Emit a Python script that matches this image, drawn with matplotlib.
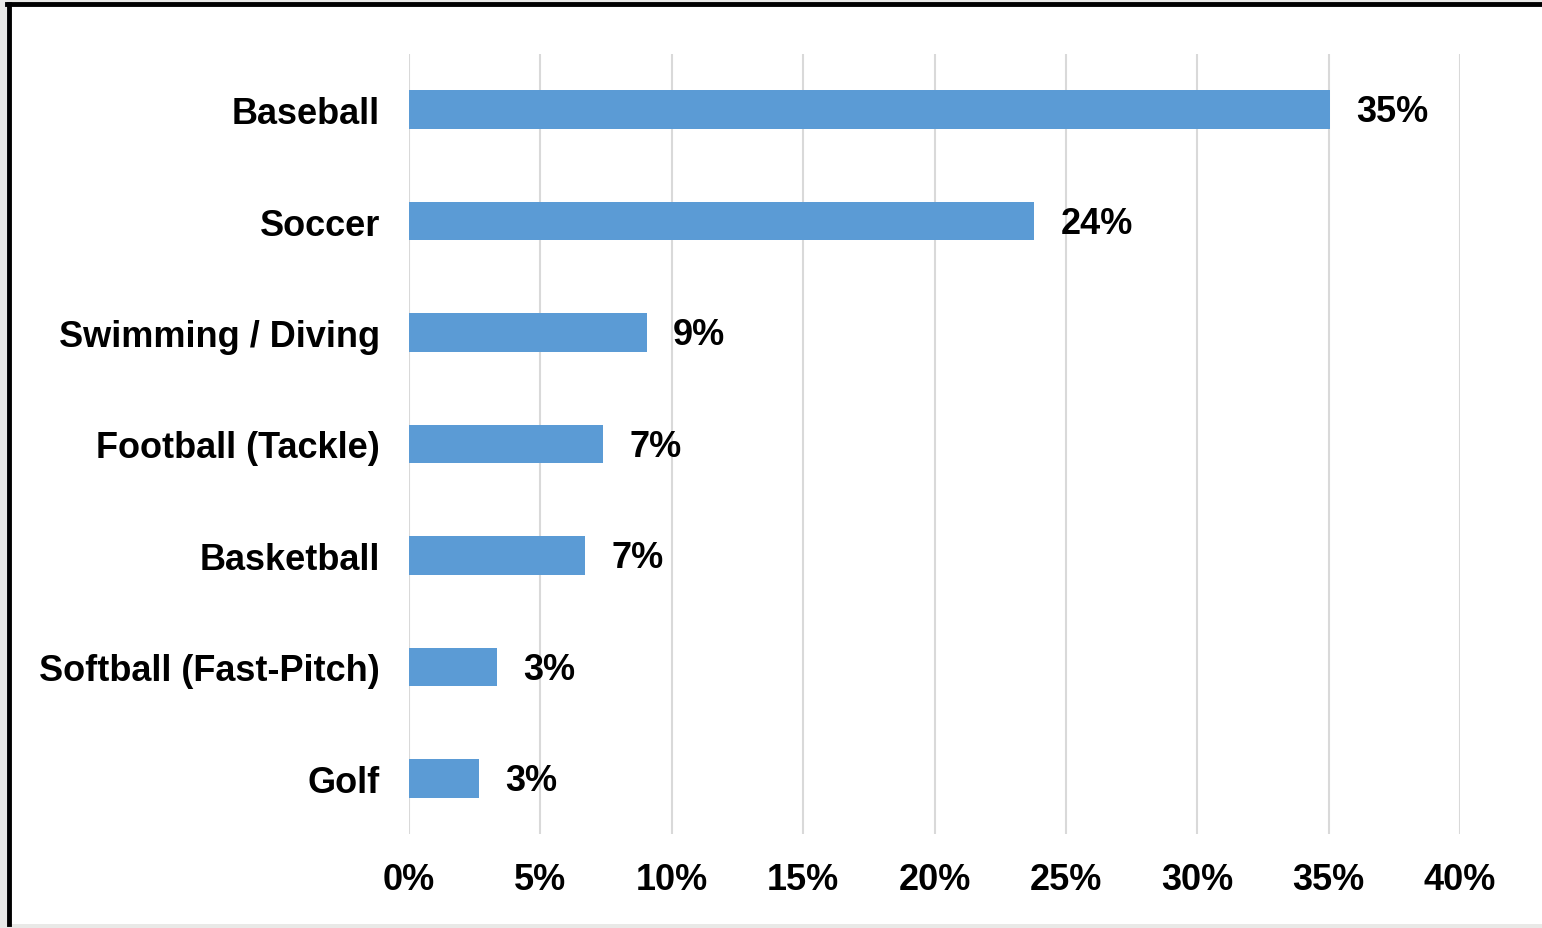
import matplotlib.pyplot as plt
from matplotlib.patches import Rectangle
from matplotlib.ticker import FuncFormatter

sports = ['Baseball', 'Soccer', 'Swimming / Diving', 'Football (Tackle)',
          'Basketball', 'Softball (Fast-Pitch)', 'Golf']
share = [35.05, 23.8, 9.05, 7.4, 6.7, 3.35, 2.65]
labels = ['35%', '24%', '9%', '7%', '7%', '3%', '3%']

plt.rcParams['font.family'] = ['Liberation Sans', 'DejaVu Sans']
plt.rcParams['font.weight'] = 'bold'

fig = plt.figure(figsize=(15.42, 9.29), dpi=100)
fig.patch.set_facecolor('#e9e9e7')
# white card with black border on top / left
fig.add_artist(Rectangle((9 / 1542, 0.004), 1.0, 1 - 5 / 929 - 0.004,
                         transform=fig.transFigure, facecolor='white',
                         edgecolor='none', zorder=-5))
fig.add_artist(plt.Line2D([9 / 1542, 9 / 1542], [0.004, 1 - 5 / 929],
                          color='black', lw=3.5, transform=fig.transFigure))
fig.add_artist(plt.Line2D([7 / 1542, 1.0], [1 - 5 / 929, 1 - 5 / 929],
                          color='black', lw=3.5, transform=fig.transFigure))

ax = fig.add_axes([409 / 1542, 1 - 835 / 929, 1051 / 1542, 780 / 929])
ax.set_facecolor('none')
ax.set_zorder(2)

y = list(range(len(sports)))
ax.barh(y, share, height=0.345, color='#5b9bd5', zorder=2)
for yi, v, lab in zip(y, share, labels):
    ax.text(v + 1.0, yi + 0.02, lab, va='center', ha='left', fontsize=26, color='black')

ax.set_xlim(0, 40)
ax.set_ylim(len(sports) - 0.5, -0.5)
ax.set_xticks(range(0, 41, 5))
ax.xaxis.set_major_formatter(FuncFormatter(lambda v, p: f'{int(v)}%'))
ax.set_yticks(y)
ax.set_yticklabels(sports)
ax.tick_params(axis='both', length=0, labelsize=26, colors='black')
ax.tick_params(axis='y', pad=21)
ax.tick_params(axis='x', pad=20)
ax.grid(axis='x', color='#d9d9d9', lw=1.5, zorder=0)
for s in ax.spines.values():
    s.set_visible(False)

fig.savefig('out.png', dpi=100)
